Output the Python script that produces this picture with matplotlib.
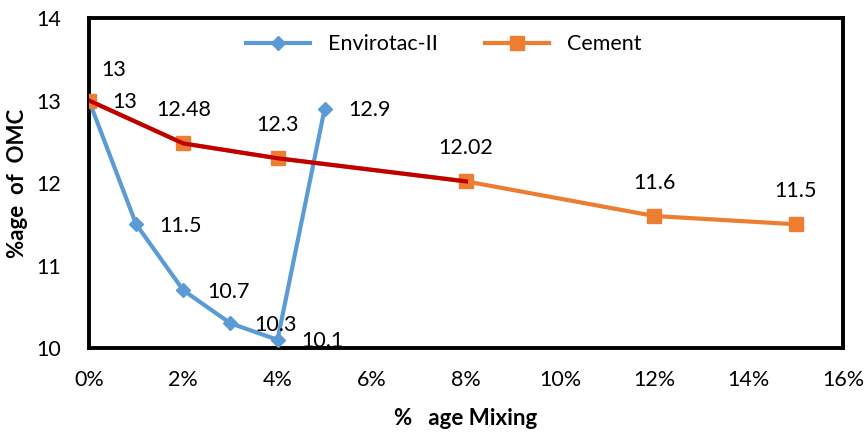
import matplotlib.pyplot as plt
from matplotlib.ticker import FuncFormatter

plt.rcParams['font.family'] = ['Lato', 'DejaVu Sans']

# ค่าจากการทดสอบ OMC
envirotac_x = [0, 1, 2, 3, 4, 5]
envirotac_y = [13, 11.5, 10.7, 10.3, 10.1, 12.9]
cement_x = [0, 2, 4, 8, 12, 15]
cement_y = [13, 12.48, 12.3, 12.02, 11.6, 11.5]

blue = '#5B9BD5'
orange = '#ED7D31'
dark_red = '#C00000'
fs = 15.5

fig = plt.figure(figsize=(8.66, 4.32), dpi=100)
ax = fig.add_axes([0.1028, 0.1944, 0.8706, 0.7639])

ax.plot(envirotac_x, envirotac_y, color=blue, lw=3, marker='D', ms=7,
        label='Envirotac-II', zorder=3)
ax.plot(cement_x, cement_y, color=orange, lw=3, marker='s', ms=10,
        label='Cement', zorder=3)
# ช่วงแรกของเส้น cement เป็นสีแดงเข้ม
ax.plot(cement_x[:4], cement_y[:4], color=dark_red, lw=3, zorder=4)

# ป้ายค่าของแต่ละจุด
for x, y in zip(envirotac_x, envirotac_y):
    ax.annotate(f'{y:g}', (x, y), xytext=(17, -1), textcoords='offset points',
                ha='left', va='center', fontsize=fs, zorder=5)
for i, (x, y) in enumerate(zip(cement_x, cement_y)):
    off = (18, 22) if i == 0 else (0, 24)
    ax.annotate(f'{y:g}', (x, y), xytext=off, textcoords='offset points',
                ha='center', va='center', fontsize=fs, zorder=5)

ax.set_xlim(0, 16)
ax.set_ylim(10, 14)
ax.set_xticks(range(0, 17, 2))
ax.set_yticks(range(10, 15))
ax.xaxis.set_major_formatter(FuncFormatter(lambda v, p: f'{v:.0f}%'))
ax.tick_params(length=0, labelsize=fs)
ax.tick_params(axis='y', pad=20)
ax.tick_params(axis='x', pad=16)

for s in ax.spines.values():
    s.set_linewidth(2.8)
    s.set_color('black')

ax.set_xlabel('%   age Mixing', fontsize=16, fontweight='bold', labelpad=13)
ax.set_ylabel('%age  of  OMC', fontsize=16, fontweight='bold', labelpad=6)

ax.legend(loc='upper center', ncol=2, frameon=False, fontsize=fs,
          bbox_to_anchor=(0.47, 1.01), handlelength=3, columnspacing=2.2)

fig.savefig('out.png', dpi=100)
